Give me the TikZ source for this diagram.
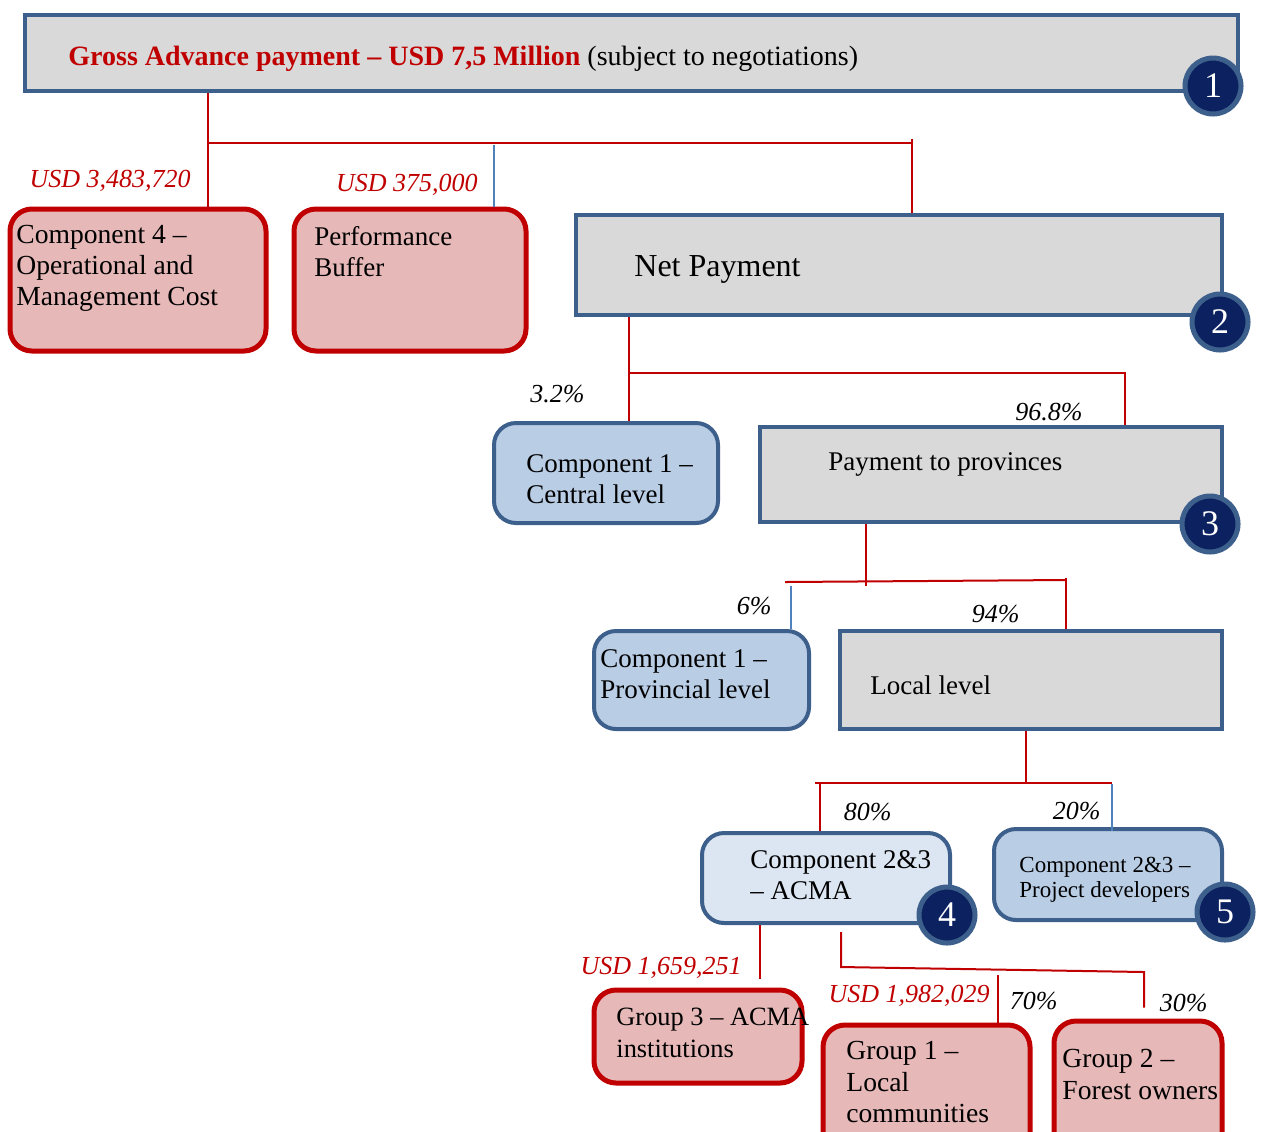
\documentclass[tikz,border=0pt]{standalone}
\usepackage{fontspec}
\setmainfont{Liberation Serif}
\definecolor{boxgray}{HTML}{D9D9D9}
\definecolor{frameblue}{HTML}{3C5F8C}
\definecolor{pinkfill}{HTML}{E6B9B8}
\definecolor{darkred}{HTML}{C00000}
\definecolor{lightblue}{HTML}{B9CDE5}
\definecolor{paleblue}{HTML}{DCE6F2}
\definecolor{navy}{HTML}{0B2160}
\definecolor{thinblue}{HTML}{4F81BD}
\tikzset{
 graybox/.style={draw=frameblue, line width=2pt, fill=boxgray, inner sep=0pt},
 pinkbox/.style={draw=darkred, line width=2.5pt, fill=pinkfill, rounded corners=11pt, inner sep=0pt},
 bluebox/.style={draw=frameblue, line width=2pt, fill=lightblue, rounded corners=11pt, inner sep=0pt},
 palebox/.style={bluebox, fill=paleblue},
 badge/.style={circle, draw=frameblue, line width=2.5pt, fill=navy, text=white, minimum size=28pt, inner sep=0pt, font=\fontsize{18}{18}\selectfont},
 boxtext/.style={anchor=west, align=left, inner sep=0pt, font=\fontsize{13.5}{15.5}\selectfont},
 amount/.style={anchor=east, inner sep=0pt, text=darkred, font=\fontsize{13}{15}\selectfont\itshape},
 share/.style={amount, text=black},
 link/.style={draw=darkred, line width=1pt},
 bluelink/.style={draw=thinblue, line width=0.6pt}
}
\begin{document}
\begin{tikzpicture}[x=0.5pt,y=-0.5pt]
 \useasboundingbox (0,0) rectangle (1261,1131);
 \clip (0,0) rectangle (1261,1131);
 \node[graybox, minimum width=606.5pt, minimum height=38pt] (gross) at (631.5,53) {};
 \node[pinkbox, minimum width=128pt, minimum height=71pt] (cmp4) at (138,280) {};
 \node[pinkbox, minimum width=116pt, minimum height=71pt] (buffer) at (410,280) {};
 \node[graybox, minimum width=323pt, minimum height=50pt] (net) at (899,265) {};
 \node[bluebox, minimum width=112pt, minimum height=50pt] (central) at (606,473) {};
 \node[graybox, minimum width=231pt, minimum height=47.5pt] (prov) at (991,474.5) {};
 \node[bluebox, minimum width=107.5pt, minimum height=49pt] (provlvl) at (701.5,680) {};
 \node[graybox, minimum width=191pt, minimum height=49pt] (local) at (1031,680) {};
 \node[palebox, minimum width=124pt, minimum height=45pt] (acma) at (826,878) {};
 \node[bluebox, minimum width=114pt, minimum height=45.5pt] (devs) at (1108,874.5) {};
 \node[pinkbox, minimum width=104pt, minimum height=46.5pt] (grp3) at (698,1036.5) {};
 \node[pinkbox, minimum width=103.5pt, minimum height=67.5pt] (grp1) at (926.5,1092.5) {};
 \node[pinkbox, minimum width=84pt, minimum height=69.5pt] (grp2) at (1138,1090.5) {};

 \node[boxtext, font=\fontsize{14}{16}\selectfont] (grosstext) at (68,59) {{\bfseries\color{darkred}Gross Advance payment – USD 7,5 Million} (subject to negotiations)};
 \node[boxtext, font=\fontsize{13.8}{15.5}\selectfont] (cmp4text) at (16,268) {Component 4 –\\Operational and\\Management Cost};
 \node[boxtext] (buffertext) at (314,252) {Performance\\Buffer};
 \node[boxtext, font=\fontsize{16}{18}\selectfont] (nettext) at (634,269) {Net Payment};
 \node[boxtext] (centraltext) at (526,479) {Component 1 –\\Central level};
 \node[boxtext] (provtext) at (828,464) {Payment to provinces};
 \node[boxtext] (provlvltext) at (600,674) {Component 1 –\\Provincial level};
 \node[boxtext] (localtext) at (870,685) {Local level};
 \node[boxtext] (acmatext) at (750,875) {Component 2\&3\\– ACMA};
 \node[boxtext, font=\fontsize{11.5}{12.5}\selectfont] (devstext) at (1019,880) {Component 2\&3 –\\Project developers};
 \node[boxtext, font=\fontsize{13.2}{16}\selectfont] (grp3text) at (616,1033) {Group 3 – ACMA\\institutions};
 \node[boxtext, font=\fontsize{13.8}{15.7}\selectfont] (grp1text) at (846,1082) {Group 1 –\\Local\\communities};
 \node[boxtext, font=\fontsize{13.8}{16}\selectfont] (grp2text) at (1062,1074) {Group 2 –\\Forest owners};

 \node[badge] (b1) at (1213,86) {1};
 \node[badge] (b2) at (1220,322) {2};
 \node[badge] (b3) at (1210,524) {3};
 \node[badge] (b4) at (947,915) {4};
 \node[badge] (b5) at (1225,912) {5};

 \node[amount] (amt4) at (191,181) {USD 3,483,720};
 \node[amount] (amtbuf) at (478,185) {USD 375,000};
 \node[share] (pc32) at (585,394) {3.2\%};
 \node[share] (pc968) at (1083,412) {96.8\%};
 \node[share] (pc6) at (772,606) {6\%};
 \node[share] (pc94) at (1020,614) {94\%};
 \node[share] (pc80) at (892,812) {80\%};
 \node[share] (pc20) at (1101,811) {20\%};
 \node[amount] (amtg3) at (742,968) {USD 1,659,251};
 \node[amount] (amtg1) at (990,996) {USD 1,982,029};
 \node[share] (pc70) at (1058,1001) {70\%};
 \node[share] (pc30) at (1208,1003) {30\%};

 \coordinate (j1) at (208,143);
 \coordinate (j2) at (912,143);
 \coordinate (j3) at (494,145);
 \coordinate (j4) at (629,373);
 \coordinate (j5) at (1125,373);
 \coordinate (j6) at (866,581);
 \coordinate (j7) at (785,582);
 \coordinate (j8) at (1066,580);
 \coordinate (j9) at (791,586);
 \coordinate (j10) at (1026,783);
 \coordinate (j11) at (815,783);
 \coordinate (j12) at (820,783);
 \coordinate (j13) at (1112,784);
 \coordinate (j14) at (760,979);
 \coordinate (j15) at (841,967);
 \coordinate (j16) at (1144,972);
 \coordinate (j17) at (998,975);

 \draw[link] (gross.south -| j1) -- (cmp4.north -| j1);
 \draw[link] (j1) -- (j2);
 \draw[link] ([yshift=2pt]j2) -- (net.north -| j2);
 \draw[bluelink] (j3) -- (buffer.north -| j3);
 \draw[link] (net.south -| j4) -- (central.north -| j4);
 \draw[link] (j4) -- (j5) -- (prov.north -| j5);
 \draw[link] (prov.south -| j6) -- ([yshift=-2.5pt]j6);
 \draw[link] (j7) -- (j8);
 \draw[link] ([yshift=1pt]j8) -- (local.north -| j8);
 \draw[bluelink] (j9) -- (provlvl.north -| j9);
 \draw[link] (local.south -| j10) -- (j10);
 \draw[link] (j11) -- (j13 |- j11);
 \draw[link] (j12) -- (acma.north -| j12);
 \draw[bluelink] (j13) -- ([yshift=-2pt]devs.north -| j13);
 \draw[link] (acma.south -| j14) -- (j14);
 \draw[link] ([yshift=-3.5pt]acma.south -| j15) -- (j15) -- (j16) -- ([yshift=5.5pt]grp2.north -| j16);
 \draw[link] (j17) -- (grp1.north -| j17);
\end{tikzpicture}
\end{document}
